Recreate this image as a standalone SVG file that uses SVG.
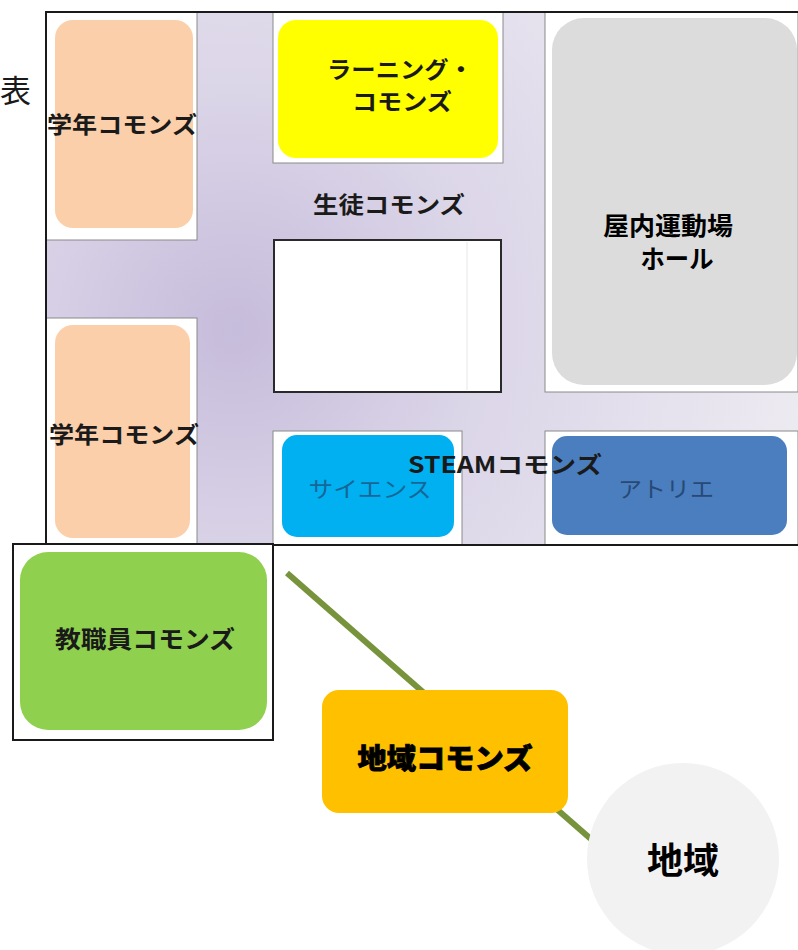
<svg xmlns="http://www.w3.org/2000/svg" width="798" height="950" viewBox="0 0 798 950">
<style>
.t{font-family:"Noto Sans CJK JP","Noto Sans",sans-serif;font-weight:bold;fill:#1a1a1a;dominant-baseline:central;text-anchor:middle}
.cell{fill:#ffffff;stroke:#8a8a8a;stroke-width:1}
.frame{fill:none;stroke:#1a1a1a;stroke-width:2}
</style>
<defs>
<radialGradient id="corr" cx="235" cy="330" r="600" gradientUnits="userSpaceOnUse">
<stop offset="0" stop-color="#c6bcdb"/>
<stop offset="0.4" stop-color="#dbd5e8"/>
<stop offset="1" stop-color="#eeecf2"/>
</radialGradient>
</defs>
<rect width="798" height="950" fill="#ffffff"/>
<text x="0" y="88" font-family="'Noto Sans CJK JP',sans-serif" font-size="31" fill="#1a1a1a" dominant-baseline="central">表</text>
<g id="corridor">
<rect x="46" y="12" width="752" height="533" fill="url(#corr)"/>
</g>
<g id="cells">
<rect class="cell" x="46" y="12" width="151" height="228"/>
<rect class="cell" x="46" y="318" width="151" height="227"/>
<rect class="cell" x="273" y="12" width="230" height="151"/>
<rect class="cell" x="545" y="12" width="253" height="380"/>
<rect class="cell" x="273" y="431" width="189" height="114"/>
<rect class="cell" x="545" y="431" width="253" height="114"/>
</g>
<g id="frame">
<path class="frame" d="M46,545 V12 H798"/>
<path class="frame" d="M272,545 H798"/>
</g>
<g id="grade-commons-1">
<rect x="55" y="20" width="138" height="208" rx="18" fill="#fbcfaa"/>
<text class="t" x="122" y="123" font-size="23" textLength="150" lengthAdjust="spacingAndGlyphs">学年コモンズ</text>
</g>
<g id="grade-commons-2">
<rect x="55" y="325" width="135" height="213" rx="18" fill="#fbcfaa"/>
<text class="t" x="124" y="433" font-size="23" textLength="150" lengthAdjust="spacingAndGlyphs">学年コモンズ</text>
</g>
<g id="learning-commons">
<rect x="278" y="20" width="220" height="138" rx="18" fill="#ffff00"/>
<text class="t" x="400" y="68" font-size="23" textLength="146" lengthAdjust="spacingAndGlyphs">ラーニング・</text>
<text class="t" x="402" y="100" font-size="23" textLength="100" lengthAdjust="spacingAndGlyphs">コモンズ</text>
</g>
<g id="student-commons">
<text class="t" x="389" y="203" font-size="23" textLength="152" lengthAdjust="spacingAndGlyphs">生徒コモンズ</text>
</g>
<g id="blank-room">
<rect x="274" y="240" width="227" height="152" fill="#ffffff" stroke="#2a2a2a" stroke-width="2"/>
<line x1="467" y1="242" x2="467" y2="390" stroke="#e6e6e6" stroke-width="1"/>
</g>
<g id="hall">
<rect x="552" y="18" width="245" height="367" rx="32" fill="#dcdcdc"/>
<text class="t" x="668" y="224" font-size="25" style="fill:#000" textLength="130" lengthAdjust="spacingAndGlyphs">屋内運動場</text>
<text class="t" x="677" y="257" font-size="25" style="fill:#000" textLength="73" lengthAdjust="spacingAndGlyphs">ホール</text>
</g>
<g id="science">
<rect x="282" y="435" width="172" height="102" rx="15" fill="#00b0f0"/>
<text class="t" x="370" y="487" font-size="22" style="font-weight:normal;fill:#1f4e79;opacity:0.75" textLength="123" lengthAdjust="spacingAndGlyphs">サイエンス</text>
</g>
<g id="atelier">
<rect x="552" y="436" width="235" height="99" rx="15" fill="#4a7ebe"/>
<text class="t" x="666" y="487" font-size="22" style="font-weight:normal;fill:#22406a;opacity:0.85" textLength="96" lengthAdjust="spacingAndGlyphs">アトリエ</text>
</g>
<g id="steam-commons">
<text class="t" x="505" y="463" font-size="23" textLength="194" lengthAdjust="spacingAndGlyphs">STEAMコモンズ</text>
</g>
<g id="connectors">
<line x1="287" y1="573" x2="592" y2="840" stroke="#77933c" stroke-width="6"/>
</g>
<g id="staff-commons">
<rect x="13" y="544" width="260" height="196" fill="#ffffff" stroke="#1a1a1a" stroke-width="2"/>
<rect x="20" y="552" width="247" height="178" rx="28" fill="#8fd14f"/>
<text class="t" x="145" y="637" font-size="24" textLength="180" lengthAdjust="spacingAndGlyphs">教職員コモンズ</text>
</g>
<g id="community-commons">
<rect x="322" y="690" width="246" height="123" rx="17" fill="#ffc000"/>
<text class="t" x="445" y="757" font-size="28" style="font-weight:900;fill:#000;stroke:#000;stroke-width:0.8" textLength="175" lengthAdjust="spacingAndGlyphs">地域コモンズ</text>
</g>
<g id="community">
<circle cx="683" cy="859" r="96" fill="#f2f2f2"/>
<text class="t" x="683" y="858" font-size="36" style="fill:#000" textLength="72" lengthAdjust="spacingAndGlyphs">地域</text>
</g>
</svg>
